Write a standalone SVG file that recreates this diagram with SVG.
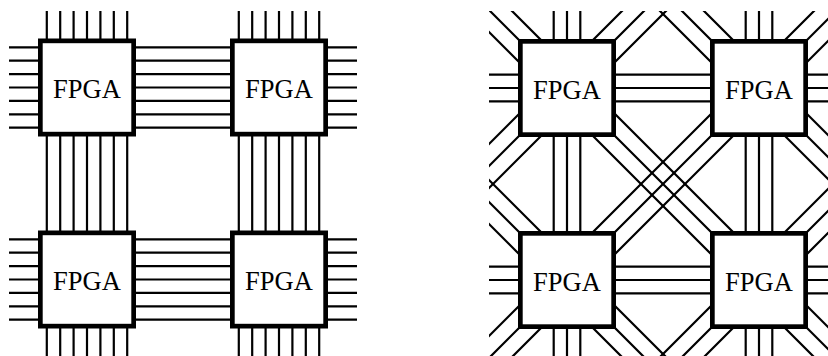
<svg xmlns="http://www.w3.org/2000/svg" width="828" height="356" viewBox="0 0 828 356">
<style>
.w{stroke:#000;stroke-width:2.2;fill:none}
.box rect{fill:#fff;stroke:#000;stroke-width:4.7}
.box text{font-family:"Liberation Serif","Times New Roman",serif;font-size:26.5px;text-anchor:middle;fill:#000}
</style>
<defs>
<clipPath id="cl"><rect x="9" y="11" width="348" height="348"/></clipPath>
<clipPath id="cr"><rect x="489" y="11" width="348" height="348"/></clipPath>
</defs>
<rect width="828" height="356" fill="#fff"/>
<g id="connectors">
<g clip-path="url(#cl)">
<path class="w" d="M0 47.3H400M0 60.7H400M0 74.1H400M0 87.5H400M0 100.9H400M0 114.3H400M0 127.7H400M0 239.3H400M0 252.7H400M0 266.1H400M0 279.5H400M0 292.9H400M0 306.3H400M0 319.7H400"/>
<path class="w" d="M46.8 0V400M60.2 0V400M73.6 0V400M87 0V400M100.4 0V400M113.8 0V400M127.2 0V400M238.8 0V400M252.2 0V400M265.6 0V400M279 0V400M292.4 0V400M305.8 0V400M319.2 0V400"/>
</g>
<g clip-path="url(#cr)">
<path class="w" d="M480 74.7H840M480 88H840M480 101.3H840M480 266.7H840M480 280H840M480 293.3H840"/>
<path class="w" d="M553.7 0V400M567 0V400M580.3 0V400M745.7 0V400M759 0V400M772.3 0V400"/>
<path class="w" d="M437 -20L837 380M459 -20L859 380M481 -20L881 380M629 -20L1029 380M651 -20L1051 380M673 -20L1073 380M245 -20L645 380M267 -20L667 380M289 -20L689 380"/>
<path class="w" d="M653 -20L253 380M675 -20L275 380M697 -20L297 380M845 -20L445 380M867 -20L467 380M889 -20L489 380M1037 -20L637 380M1059 -20L659 380M1081 -20L681 380"/>
</g>
</g>
<g id="fpga-l-tl" class="box"><rect x="40.35" y="40.85" width="93.3" height="93.3"/><text x="87" y="98">FPGA</text></g>
<g id="fpga-l-tr" class="box"><rect x="232.35" y="40.85" width="93.3" height="93.3"/><text x="279" y="98">FPGA</text></g>
<g id="fpga-l-bl" class="box"><rect x="40.35" y="232.85" width="93.3" height="93.3"/><text x="87" y="290">FPGA</text></g>
<g id="fpga-l-br" class="box"><rect x="232.35" y="232.85" width="93.3" height="93.3"/><text x="279" y="290">FPGA</text></g>
<g id="fpga-r-tl" class="box"><rect x="520.35" y="41.35" width="93.3" height="93.3"/><text x="567" y="98.5">FPGA</text></g>
<g id="fpga-r-tr" class="box"><rect x="712.35" y="41.35" width="93.3" height="93.3"/><text x="759" y="98.5">FPGA</text></g>
<g id="fpga-r-bl" class="box"><rect x="520.35" y="233.35" width="93.3" height="93.3"/><text x="567" y="290.5">FPGA</text></g>
<g id="fpga-r-br" class="box"><rect x="712.35" y="233.35" width="93.3" height="93.3"/><text x="759" y="290.5">FPGA</text></g>
</svg>
